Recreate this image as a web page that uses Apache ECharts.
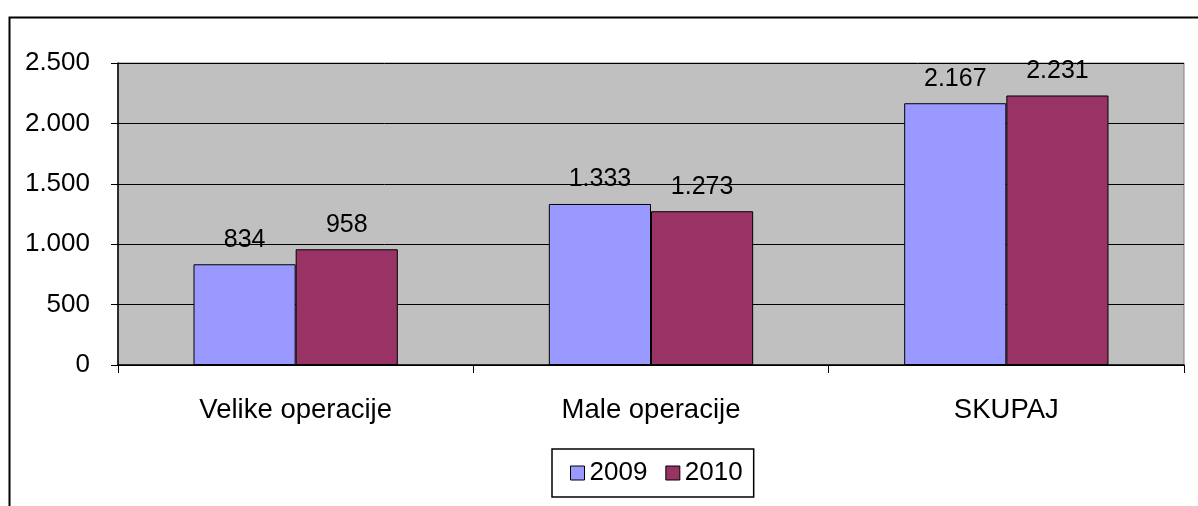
<!DOCTYPE html>
<html>
<head>
<meta charset="utf-8">
<script src="https://cdn.jsdelivr.net/npm/echarts@6/dist/echarts.min.js"></script>
<style>html,body{margin:0;padding:0;background:#fff;}#c{width:1198px;height:506px;}</style>
</head>
<body>
<div id="c"></div>
<script>
var categories = ['Velike operacije', 'Male operacije', 'SKUPAJ'];
var seriesNames = ['2009', '2010'];
var values2009 = [834, 1333, 2167];
var values2010 = [958, 1273, 2231];
var yTicks = [0, 500, 1000, 1500, 2000, 2500];

function fmt(v) {
  var s = String(Math.round(v));
  return s.replace(/\B(?=(\d{3})+(?!\d))/g, '.');
}

var FONT = 'Liberation Sans, Arial, sans-serif';
var chart = echarts.init(document.getElementById('c'));
var labelCfg = {
  show: true, position: 'top', distance: 12,
  color: '#000', fontFamily: FONT, fontSize: 25,
  formatter: function (p) { return fmt(p.value); }
};
chart.setOption({
  animation: false,
  backgroundColor: '#fff',
  graphic: [{
    type: 'rect', left: 7, top: 15, silent: true,
    shape: { x: 0, y: 0, width: 1300, height: 600 },
    style: { fill: 'none', stroke: '#000', lineWidth: 2 }
  }],
  grid: {
    left: 118, right: 14, top: 63, bottom: 141,
    show: true, backgroundColor: '#C0C0C0', borderColor: '#808080', borderWidth: 1
  },
  legend: {
    data: seriesNames,
    left: 552, top: 449,
    orient: 'horizontal',
    borderColor: '#000', borderWidth: 1.5,
    padding: [10, 11, 10, 18],
    itemWidth: 14, itemHeight: 14, itemGap: 18,
    icon: 'rect',
    itemStyle: { borderColor: '#000', borderWidth: 1 },
    textStyle: { color: '#000', fontFamily: FONT, fontSize: 26, lineHeight: 28 }
  },
  xAxis: {
    type: 'category', data: categories,
    axisLine: { show: true, lineStyle: { color: '#000', width: 1.5 } },
    axisTick: { show: true, length: 8, lineStyle: { color: '#000' } },
    axisLabel: { color: '#000', fontFamily: FONT, fontSize: 27.5, margin: 31 },
    splitLine: { show: false }
  },
  yAxis: {
    type: 'value', min: 0, max: yTicks[yTicks.length - 1], interval: 500,
    axisLine: { show: true, lineStyle: { color: '#000', width: 1.5 } },
    axisTick: { show: true, length: 7, lineStyle: { color: '#000' } },
    axisLabel: { color: '#000', fontFamily: FONT, fontSize: 26, margin: 28, formatter: fmt },
    splitLine: { show: true, lineStyle: { color: '#000', width: 1 } }
  },
  series: [{
    name: seriesNames[0], type: 'bar', data: values2009,
    barGap: '0%', barCategoryGap: '42.5%',
    itemStyle: { color: '#9999FF', borderColor: '#000', borderWidth: 1 },
    label: labelCfg
  }, {
    name: seriesNames[1], type: 'bar', data: values2010,
    barGap: '0%', barCategoryGap: '42.5%',
    itemStyle: { color: '#993366', borderColor: '#000', borderWidth: 1 },
    label: labelCfg
  }]
});
</script>
</body>
</html>
